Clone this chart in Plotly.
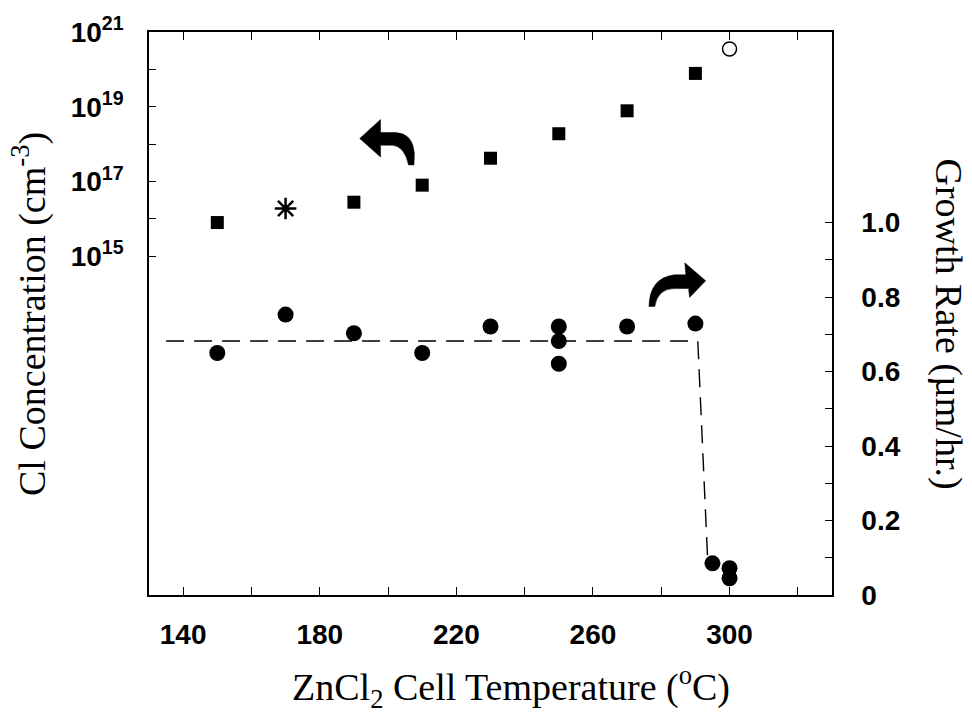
import plotly.graph_objects as go

# ---------------- data ----------------
# Cl concentration (left, log axis)
cl_temp_sq = [150, 190, 210, 230, 250, 270, 290]
cl_conc_sq = [8.0e15, 2.8e16, 8.0e16, 4.2e17, 1.9e18, 7.8e18, 7.8e19]
cl_temp_star = [170]
cl_conc_star = [1.9e16]
cl_temp_open = [300]
cl_conc_open = [3.5e20]

# Growth rate (right axis)
gr_temp = [150, 170, 190, 210, 230, 250, 250, 250, 270, 290, 295, 300, 300]
gr_rate = [0.65, 0.753, 0.703, 0.65, 0.721, 0.721, 0.682, 0.621, 0.721, 0.729, 0.085, 0.072, 0.045]

# dashed guide line
guide_temp = [135, 290.7, 293.6]
guide_rate = [0.682, 0.682, 0.093]

# axis ticks
x_ticks = [140, 160, 180, 200, 220, 240, 260, 280, 300, 320]
x_ticktext = ["140", "", "180", "", "220", "", "260", "", "300", ""]
y_ticks = [1e15, 1e16, 1e17, 1e18, 1e19, 1e20, 1e21]
y_ticktext = ["10<sup>15</sup>", "", "10<sup>17</sup>", "", "10<sup>19</sup>", "", "10<sup>21</sup>"]
y2_ticks = [0, 0.1, 0.2, 0.3, 0.4, 0.5, 0.6, 0.7, 0.8, 0.9, 1.0]
y2_ticktext = ["0", "", "0.2", "", "0.4", "", "0.6", "", "0.8", "", "1.0"]

TICKFONT = dict(family="Liberation Sans, Arial", size=28, color="black", weight="bold")
TITLEFONT = dict(family="Liberation Serif, Times New Roman", size=38, color="black")

fig = go.Figure()

fig.add_trace(go.Scatter(x=cl_temp_sq, y=cl_conc_sq, mode="markers",
                         marker=dict(symbol="square", size=13, color="black"),
                         showlegend=False))
fig.add_trace(go.Scatter(x=cl_temp_star, y=cl_conc_star, mode="markers",
                         marker=dict(symbol="asterisk-open", size=18, color="black",
                                     line=dict(color="black", width=2.5)),
                         showlegend=False))
fig.add_trace(go.Scatter(x=cl_temp_open, y=cl_conc_open, mode="markers",
                         marker=dict(symbol="circle-open", size=14, color="black",
                                     line=dict(color="black", width=1.5)),
                         showlegend=False))

fig.add_trace(go.Scatter(x=guide_temp, y=guide_rate, mode="lines", yaxis="y2",
                         line=dict(color="black", width=1.4, dash="18px,10px"),
                         showlegend=False))
fig.add_trace(go.Scatter(x=gr_temp, y=gr_rate, mode="markers", yaxis="y2",
                         marker=dict(symbol="circle", size=16, color="black"),
                         showlegend=False))

# curved arrows (decoration) in data units of x / y2
left_arrow = ("M 191.7,1.226 L 197.8,1.277 L 197.8,1.242 L 202.2,1.242 "
              "Q 207.2,1.240 207.7,1.187 L 207.6,1.155 L 206.0,1.155 "
              "Q 204.8,1.205 201.3,1.208 L 197.8,1.208 L 197.8,1.176 Z")
right_arrow = ("M 276.4,0.775 Q 276.6,0.852 283.9,0.860 L 287.2,0.860 "
               "L 286.9,0.892 L 293.0,0.844 L 288.3,0.799 L 288.0,0.823 "
               "L 283.9,0.823 Q 279.0,0.823 278.1,0.775 Z")
for p in (left_arrow, right_arrow):
    fig.add_shape(type="path", path=p, xref="x", yref="y2",
                  fillcolor="black", line=dict(color="black", width=0.5))

fig.update_layout(
    width=972, height=717,
    margin=dict(l=149, r=140, t=25, b=122),
    paper_bgcolor="white", plot_bgcolor="white",
    xaxis=dict(range=[130, 330], tickmode="array", tickvals=x_ticks, ticktext=x_ticktext,
               ticks="inside", ticklen=8, tickwidth=1.2, tickcolor="black",
               showline=True, linecolor="black", linewidth=1.5, mirror="ticks",
               showgrid=False, zeroline=False, tickfont=TICKFONT, ticklabelstandoff=14),
    yaxis=dict(type="log", range=[5.94, 21], tickmode="array", tickvals=y_ticks,
               ticktext=y_ticktext, ticks="inside", ticklen=7, tickwidth=1.2,
               tickcolor="black", showline=True, linecolor="black", linewidth=1.5,
               showgrid=False, zeroline=False, tickfont=TICKFONT, ticklabelstandoff=18),
    yaxis2=dict(overlaying="y", side="right", anchor="x", range=[0, 1.512],
                tickmode="array", tickvals=y2_ticks, ticktext=y2_ticktext,
                ticks="inside", ticklen=7, tickwidth=1.2, tickcolor="black",
                showline=True, linecolor="black", linewidth=1.5,
                showgrid=False, zeroline=False, tickfont=TICKFONT, ticklabelstandoff=22),
)

fig.add_annotation(text="Cl Concentration (cm<sup>-3</sup>)", textangle=-90,
                   xref="paper", yref="paper", x=-0.175, y=0.5,
                   showarrow=False, font=TITLEFONT, xanchor="center", yanchor="middle")
fig.add_annotation(text="Growth Rate (µm/hr.)", textangle=90,
                   xref="paper", yref="paper", x=1.170, y=0.482,
                   showarrow=False, font=TITLEFONT,
                   xanchor="center", yanchor="middle")
fig.add_annotation(text="ZnCl<sub>2</sub> Cell Temperature (<sup>o</sup>C)",
                   xref="paper", yref="paper", x=0.530, y=-0.163,
                   showarrow=False, font=TITLEFONT, xanchor="center", yanchor="middle")

fig.write_html("out.html")
